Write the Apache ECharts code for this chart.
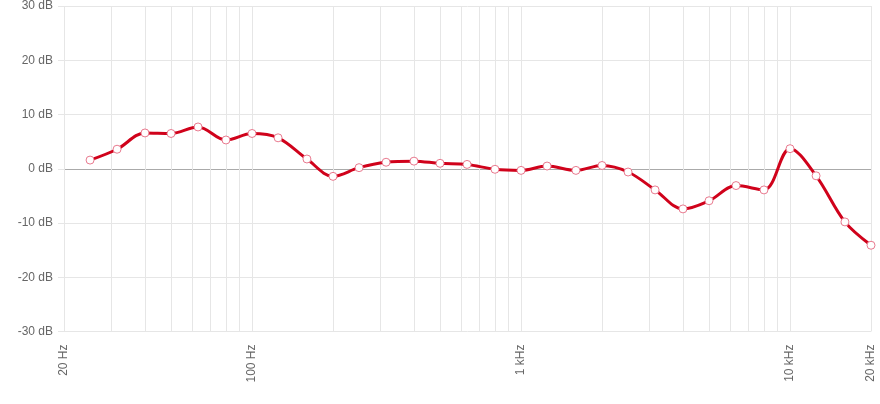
<!DOCTYPE html>
<html>
<head>
<meta charset="utf-8">
<script src="https://cdn.jsdelivr.net/npm/echarts@6/dist/echarts.min.js"></script>
<style>html,body{margin:0;padding:0;background:#fff;}#c{width:880px;height:404px;}</style>
</head>
<body>
<div id="c"></div>
<script>
var frequencies = [25, 31.5, 40, 50, 63, 80, 100, 125, 160, 200, 250, 315, 400, 500, 630, 800, 1000, 1250, 1600, 2000, 2500, 3150, 4000, 5000, 6300, 8000, 10000, 12500, 16000, 20000];
var gainDb = [1.6, 3.6, 6.6, 6.5, 7.7, 5.3, 6.5, 5.7, 1.8, -1.4, 0.2, 1.2, 1.4, 1.0, 0.8, -0.1, -0.3, 0.5, -0.3, 0.6, -0.6, -3.9, -7.4, -5.9, -3.1, -3.9, 3.7, -1.3, -9.8, -14.1];
var gridFreqs = [20, 30, 40, 50, 60, 70, 80, 90, 100, 200, 300, 400, 500, 600, 700, 800, 900, 1000, 2000, 3000, 4000, 5000, 6000, 7000, 8000, 9000, 10000, 20000];
var xTickLabels = [20, 100, 1000, 10000, 20000];
var yTicks = [-30, -20, -10, 0, 10, 20, 30];

var chart = echarts.init(document.getElementById('c'), null, {renderer: 'canvas'});
var pts = frequencies.map(function (f, i) { return [f, gainDb[i]]; });
var font = 'Liberation Sans, Arial, Helvetica, sans-serif';
chart.setOption({
  animation: false,
  grid: {left: 64, right: 9, top: 6, bottom: 72.5, containLabel: false},
  xAxis: {
    type: 'log', logBase: 10, min: 20, max: 20000,
    axisLine: {show: false},
    axisTick: {show: true, length: 10, lineStyle: {color: '#e6e6e6'}, customValues: gridFreqs},
    splitLine: {show: true, lineStyle: {color: '#e6e6e6', width: 1}},
    minorTick: {show: false},
    axisLabel: {
      customValues: xTickLabels,
      rotate: 90, margin: 13, color: '#666', fontSize: 12, fontFamily: font,
      formatter: function (v) { return v >= 1000 ? (v / 1000) + ' kHz' : v + ' Hz'; }
    }
  },
  yAxis: {
    type: 'value', min: -30, max: 30, interval: 10,
    axisLine: {show: false},
    axisTick: {show: true, length: 6, lineStyle: {color: '#e6e6e6'}},
    splitLine: {show: true, lineStyle: {color: ['#e6e6e6', '#e6e6e6', '#e6e6e6', '#aaaaaa', '#e6e6e6', '#e6e6e6', '#e6e6e6']}},
    axisLabel: {color: '#666', fontSize: 12, fontFamily: font, margin: 11, formatter: '{value} dB'}
  },
  series: [{
    type: 'line',
    data: pts,
    smooth: 0.35,
    symbol: 'circle', symbolSize: 8,
    lineStyle: {color: '#d0021b', width: 3},
    itemStyle: {color: '#ffffff', borderColor: '#e8798e', borderWidth: 1}
  }]
});
</script>
</body>
</html>
